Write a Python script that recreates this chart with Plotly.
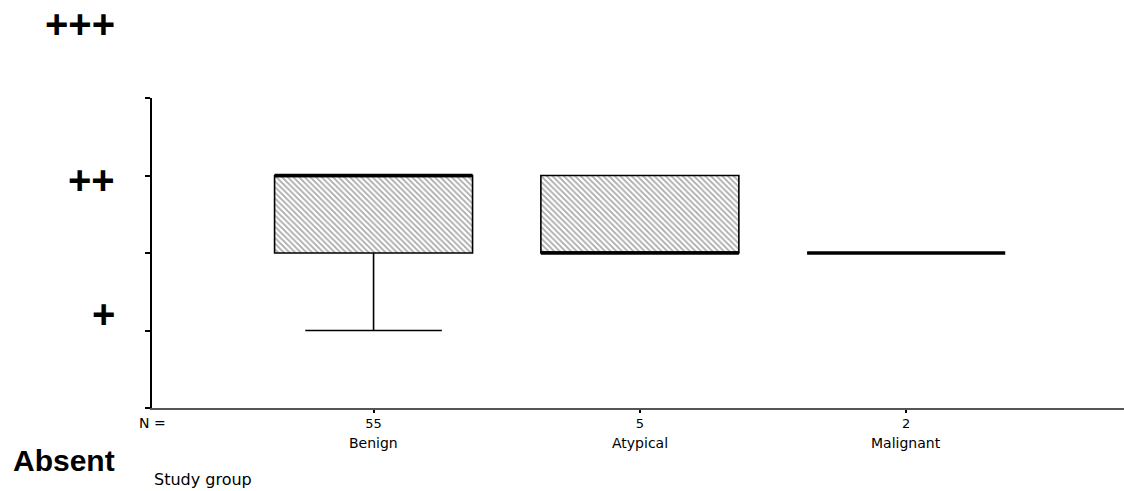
import plotly.graph_objects as go

# ---- data ----
groups = ["Benign", "Atypical", "Malignant"]
n_values = [55, 5, 2]
lower_whisker = [1, 2, 2]
q1 = [2, 2, 2]
median = [3, 2, 2]
q3 = [3, 3, 2]
upper_whisker = [3, 3, 2]
score_labels = ["Absent", "+", "++", "+++"]
score_ticks = [0, 1, 2, 3, 4]

# ---- layout constants ----
W, H = 1124, 491
ML, MR, MT, MB = 152, 0, 98, 83
box_w = 0.7435
positions = list(range(len(groups)))
plot_w = W - ML - MR
plot_h = H - MT - MB
label_py = [460, 314, 180, 24]      # pixel centres of the score labels
label_size = [30, 40, 40, 40]

fig = go.Figure()

# hatched box bodies
fig.add_trace(go.Bar(
    x=positions,
    y=[b - a for a, b in zip(q1, q3)],
    base=q1,
    width=box_w,
    marker=dict(color="white", line=dict(width=0),
                pattern=dict(shape="\\", fgcolor="#555555", bgcolor="white",
                             size=4, solidity=0.45)),
    hoverinfo="skip", showlegend=False,
))

# box outlines and whiskers
fig.add_trace(go.Box(
    x=positions, q1=q1, median=median, q3=q3,
    lowerfence=lower_whisker, upperfence=upper_whisker,
    width=box_w, whiskerwidth=0.69,
    fillcolor="rgba(0,0,0,0)",
    line=dict(color="black", width=1.6),
    boxpoints=False, hoverinfo="skip", showlegend=False,
))

# thick median lines
for p, m in zip(positions, median):
    fig.add_trace(go.Scatter(
        x=[p - box_w / 2, p + box_w / 2], y=[m, m],
        mode="lines", line=dict(color="black", width=3.5),
        hoverinfo="skip", showlegend=False,
    ))

ann = []
for lab, py, sz in zip(score_labels, label_py, label_size):
    ann.append(dict(text=lab, xref="paper", yref="paper",
                    x=(117 - ML) / plot_w, y=(H - MB - py) / plot_h,
                    xanchor="right", yanchor="middle", showarrow=False,
                    font=dict(family="Liberation Sans", size=sz, color="black", weight="bold")))
for p, g in zip(positions, groups):
    ann.append(dict(text=g, xref="x", yref="paper", x=p, y=(H - MB - 443) / plot_h,
                    xanchor="center", yanchor="middle", showarrow=False,
                    font=dict(family="DejaVu Sans", size=14, color="black")))
ann.append(dict(text="N =", xref="paper", yref="paper", x=0, y=(H - MB - 423) / plot_h,
                xanchor="center", yanchor="middle", showarrow=False,
                font=dict(family="DejaVu Sans", size=14, color="black")))
ann.append(dict(text="Study group", xref="paper", yref="paper", x=0, y=(H - MB - 479) / plot_h,
                xanchor="left", yanchor="middle", showarrow=False,
                font=dict(family="DejaVu Sans", size=16, color="black")))

fig.update_layout(
    width=W, height=H,
    margin=dict(l=ML, r=MR, t=MT, b=MB),
    paper_bgcolor="white", plot_bgcolor="white",
    showlegend=False, annotations=ann,
    barmode="overlay",
)
fig.update_xaxes(
    range=[-0.832, 2.818], tickvals=positions, ticktext=[str(n) for n in n_values],
    showline=True, linecolor="#555555", linewidth=1.5,
    ticks="outside", ticklen=3, tickwidth=2, tickcolor="black",
    tickfont=dict(family="DejaVu Sans", size=13, color="black"),
    showgrid=False, zeroline=False,
)
fig.update_yaxes(
    range=[0, 4], tickvals=score_ticks, showticklabels=False,
    showline=True, linecolor="black", linewidth=2,
    ticks="outside", ticklen=5, tickwidth=2, tickcolor="black",
    showgrid=False, zeroline=False,
)

fig.write_html(
    "out.html",
    config={"displayModeBar": False},
    post_script="document.body.style.margin='0px';document.body.style.overflow='hidden';",
)
